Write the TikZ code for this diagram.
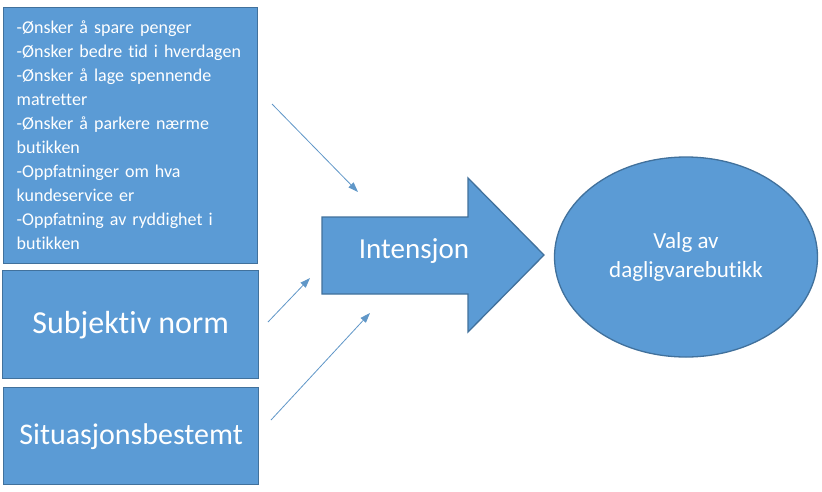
\documentclass[tikz,border=0pt]{standalone}
\usepackage{fontspec}
\setmainfont{Carlito}[RawFeature={-liga;-clig;-calt;-dlig}]
\usetikzlibrary{arrows.meta,shapes.geometric}
\definecolor{officeblue}{HTML}{5B9BD5}
\definecolor{officeedge}{HTML}{41719C}
\begin{document}
\begin{tikzpicture}[x=1pt,y=-1pt,>={Triangle[length=10pt,width=7pt]},
    box/.style={draw=officeedge,fill=officeblue,line width=1.3pt,text=white},
    factor/.style={box,rectangle,anchor=north west,inner sep=0pt},
    link/.style={->,draw=officeblue!85!gray,line width=0.8pt}]
    \fill[white] (0,0) rectangle (822,491);
    \useasboundingbox (0,0) rectangle (822,491);
    \node[factor,minimum width=254pt,minimum height=256pt,text width=228pt,align=left,
      font=\fontsize{18}{24}\selectfont] (attitude) at (3,7)
      {-Ønsker å spare penger\\-Ønsker bedre tid i hverdagen\\-Ønsker å lage spennende\\matretter\\-Ønsker å parkere nærme\\butikken\\-Oppfatninger om hva\\kundeservice er\\-Oppfatning av ryddighet i\\butikken};
    \node[factor,minimum width=256pt,minimum height=108pt,font=\fontsize{32}{38}\selectfont] (norm) at (2,270) {\raisebox{3pt}{Subjektiv norm}};
    \node[factor,minimum width=255pt,minimum height=97pt,font=\fontsize{30}{36}\selectfont] (situation) at (3,387) {\raisebox{2pt}{Situasjonsbestemt}};
    \draw[box] (322,217) -- (468,217) -- (468,178) -- (544,255) -- (468,332) -- (468,294) -- (322,294) -- cycle;
    \node[text=white,font=\fontsize{29}{35}\selectfont] (intention) at (414,251) {Intensjon};
    \node[box,ellipse,minimum width=263pt,minimum height=200pt,align=center,
      font=\fontsize{23}{29}\selectfont] (choice) at (686,257) {Valg av\\dagligvarebutikk};
    % piler inn mot intensjon
    \coordinate (a1) at (272,104); \coordinate (b1) at (358,192);
    \coordinate (a2) at (268,322); \coordinate (b2) at (310,278);
    \coordinate (a3) at (271,420); \coordinate (b3) at (370,313);
    \draw[link] (a1) -- (b1);
    \draw[link] (a2) -- (b2);
    \draw[link] (a3) -- (b3);
\end{tikzpicture}
\end{document}
